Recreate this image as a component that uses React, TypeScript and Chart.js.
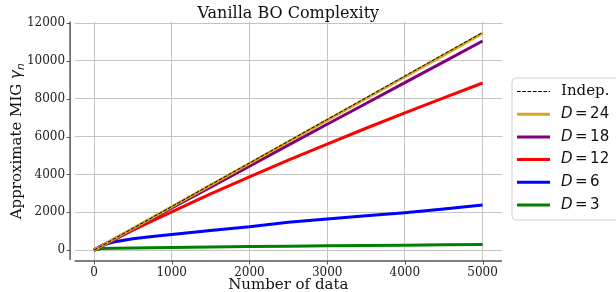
import React, { useEffect, useRef } from "react";
import { Chart, registerables } from "chart.js";

Chart.register(...registerables);

const nData = [0, 100, 250, 500, 750, 1000, 1500, 2000, 2500, 3000, 3500, 4000, 4500, 5000];
const indep = [0, 230, 575, 1150, 1725, 2300, 3450, 4600, 5750, 6900, 8050, 9200, 10350, 11500];
const d24 = [0, 229, 572, 1145, 1718, 2290, 3435, 4580, 5725, 6870, 8015, 9160, 10305, 11460];
const d18 = [0, 225, 560, 1115, 1670, 2225, 3330, 4440, 5550, 6650, 7750, 8850, 9950, 11050];
const d12 = [0, 215, 530, 1050, 1550, 2025, 2970, 3875, 4750, 5600, 6440, 7250, 8050, 8830];
const d6 = [0, 250, 430, 600, 720, 820, 1040, 1230, 1470, 1650, 1810, 1970, 2170, 2380];
const d3 = [0, 90, 105, 115, 125, 140, 165, 185, 205, 225, 245, 260, 280, 300];

const xTicks = [0, 1000, 2000, 3000, 4000, 5000];
const yTicks = [0, 2000, 4000, 6000, 8000, 10000, 12000];

const seriesLabels = ["Indep.", "24", "18", "12", "6", "3"];
const seriesColors = ["#000000", "#DAA520", "#800080", "#FF0000", "#0000FF", "#008000"];
const seriesValues = [indep, d24, d18, d12, d6, d3];

const SERIF = "'DejaVu Serif', serif";
const SANS = "'DejaVu Sans', sans-serif";
const SPINE = "#555555";

const decorPlugin = {
  id: "decor",
  afterDraw(chart: any) {
    const ctx = chart.ctx as CanvasRenderingContext2D;
    const area = chart.chartArea;
    const xs = chart.scales.x;
    const ys = chart.scales.y;
    ctx.save();
    // spines
    const spineX = area.left - 4.5;
    const spineY = area.bottom;
    ctx.strokeStyle = SPINE;
    ctx.lineWidth = 1.5;
    ctx.beginPath();
    ctx.moveTo(spineX, area.top);
    ctx.lineTo(spineX, area.bottom - 1);
    ctx.stroke();
    ctx.beginPath();
    ctx.moveTo(area.left, spineY);
    ctx.lineTo(area.right, spineY);
    ctx.stroke();
    // tick marks
    ctx.lineWidth = 1;
    yTicks.forEach((v) => {
      const py = Math.round(ys.getPixelForValue(v)) + 0.5;
      ctx.beginPath();
      ctx.moveTo(spineX, py);
      ctx.lineTo(spineX - 3.5, py);
      ctx.stroke();
    });
    xTicks.forEach((v) => {
      const px = Math.round(xs.getPixelForValue(v)) + 0.5;
      ctx.beginPath();
      ctx.moveTo(px, spineY);
      ctx.lineTo(px, spineY + 3.5);
      ctx.stroke();
    });
    // title
    const cx = (area.left + area.right) / 2;
    ctx.fillStyle = "#111";
    ctx.font = `16px ${SERIF}`;
    ctx.textAlign = "center";
    ctx.textBaseline = "alphabetic";
    ctx.fillText("Vanilla BO Complexity", cx, 18);
    // x label
    ctx.font = `15px ${SERIF}`;
    ctx.fillText("Number of data", cx, 289);
    // y label
    ctx.save();
    ctx.translate(21, (area.top + area.bottom) / 2);
    ctx.rotate(-Math.PI / 2);
    const main = "Approximate MIG ";
    ctx.font = `15px ${SERIF}`;
    const wMain = ctx.measureText(main).width;
    ctx.font = `italic 15px ${SANS}`;
    const wG = ctx.measureText("γ").width;
    ctx.font = `italic 10.5px ${SANS}`;
    const wN = ctx.measureText("n").width;
    const total = wMain + wG + wN;
    let x0 = -total / 2;
    ctx.textAlign = "left";
    ctx.font = `15px ${SERIF}`;
    ctx.fillText(main, x0, 0);
    x0 += wMain;
    ctx.font = `italic 15px ${SANS}`;
    ctx.fillText("γ", x0, 0);
    x0 += wG;
    ctx.font = `italic 10.5px ${SANS}`;
    ctx.fillText("n", x0, 3);
    ctx.restore();
    // legend
    const lx = 512, ly = 78, lw = 130, lh = 142, r = 4;
    ctx.beginPath();
    ctx.moveTo(lx + r, ly);
    ctx.lineTo(lx + lw - r, ly);
    ctx.arcTo(lx + lw, ly, lx + lw, ly + r, r);
    ctx.lineTo(lx + lw, ly + lh - r);
    ctx.arcTo(lx + lw, ly + lh, lx + lw - r, ly + lh, r);
    ctx.lineTo(lx + r, ly + lh);
    ctx.arcTo(lx, ly + lh, lx, ly + lh - r, r);
    ctx.lineTo(lx, ly + r);
    ctx.arcTo(lx, ly, lx + r, ly, r);
    ctx.closePath();
    ctx.fillStyle = "rgba(255,255,255,0.85)";
    ctx.fill();
    ctx.strokeStyle = "#d0d0d0";
    ctx.lineWidth = 1;
    ctx.stroke();
    seriesLabels.forEach((lab, i) => {
      const yy = 91.5 + i * 22.7;
      ctx.beginPath();
      ctx.strokeStyle = seriesColors[i];
      if (i === 0) {
        ctx.lineWidth = 1;
        ctx.setLineDash([3.7, 1.6]);
      } else {
        ctx.lineWidth = 3;
        ctx.setLineDash([]);
      }
      ctx.moveTo(517, yy);
      ctx.lineTo(550, yy);
      ctx.stroke();
      ctx.setLineDash([]);
      ctx.fillStyle = "#111";
      ctx.textAlign = "left";
      ctx.textBaseline = "middle";
      if (i === 0) {
        ctx.font = `15px ${SERIF}`;
        ctx.fillText(lab, 561, yy);
      } else {
        // mathtext-like "D = n"
        ctx.font = `italic 15px ${SANS}`;
        ctx.fillText("D", 561, yy);
        let px = 561 + ctx.measureText("D").width + 2.5;
        ctx.font = `15px ${SANS}`;
        ctx.fillText("=", px, yy);
        px += ctx.measureText("=").width + 2.5;
        ctx.fillText(lab, px, yy);
      }
    });
    ctx.restore();
  },
};

export default function App() {
  const ref = useRef<HTMLCanvasElement | null>(null);
  useEffect(() => {
    if (!ref.current) return;
    const datasets = seriesValues.map((vals, i) => ({
      label: seriesLabels[i],
      data: nData.map((n, j) => ({ x: n, y: vals[j] })),
      borderColor: seriesColors[i],
      backgroundColor: seriesColors[i],
      borderWidth: i === 0 ? 1 : 3,
      borderDash: i === 0 ? [3.7, 1.6] : [],
      pointRadius: 0,
      tension: 0,
      fill: false,
    }));
    const chart = new Chart(ref.current, {
      type: "line",
      data: { datasets },
      options: {
        responsive: false,
        animation: false,
        layout: { padding: { left: 0, top: 21.6, right: 114, bottom: 0 } },
        plugins: { legend: { display: false }, tooltip: { enabled: false } },
        scales: {
          x: {
            type: "linear",
            min: -250,
            max: 5250,
            afterBuildTicks: (s: any) => {
              s.ticks = xTicks.map((v) => ({ value: v }));
            },
            afterFit: (s: any) => {
              s.height = 31;
            },
            grid: { color: "#c4c4c4", lineWidth: 1, drawTicks: false },
            border: { display: false },
            ticks: {
              font: { family: SERIF, size: 12 },
              color: "#222",
              padding: 5,
              maxRotation: 0,
              callback: (v: any) => String(v),
            },
          },
          y: {
            type: "linear",
            min: -575,
            max: 12075,
            afterBuildTicks: (s: any) => {
              s.ticks = yTicks.map((v) => ({ value: v }));
            },
            afterFit: (s: any) => {
              s.width = 74.6;
            },
            grid: { color: "#c4c4c4", lineWidth: 1, drawTicks: false },
            border: { display: false },
            ticks: {
              font: { family: SERIF, size: 12 },
              color: "#222",
              padding: 9.5,
              callback: (v: any) => String(v),
            },
          },
        },
      },
      plugins: [decorPlugin],
    });
    return () => chart.destroy();
  }, []);
  return (
    <div style={{ position: "absolute", left: 0, top: 0, width: 616, height: 292, background: "#fff" }}>
      <canvas ref={ref} width={616} height={292} style={{ width: 616, height: 292 }} />
    </div>
  );
}
